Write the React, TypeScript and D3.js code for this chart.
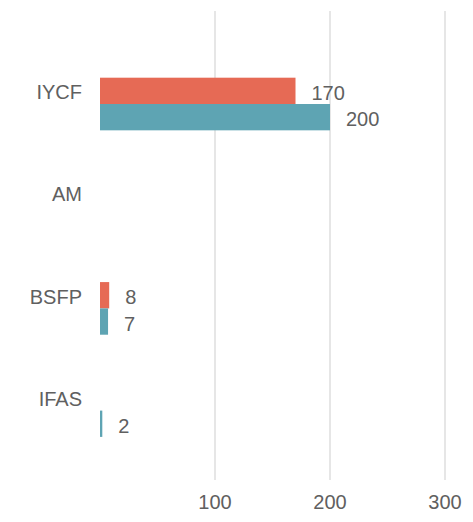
import React from "react";
import * as d3 from "d3";

const categories = ["IYCF", "AM", "BSFP", "IFAS"];
const seriesNames = ["s1", "s2"];
const series1: (number | null)[] = [170, null, 8, null];
const series2: (number | null)[] = [200, null, 7, 2];
const tickValues = [100, 200, 300];

const W = 473;
const H = 522;
const colors = ["#E66A55", "#5EA4B3"];
const textColor = "#606060";
const font = "'Liberation Sans', Arial, sans-serif";

export default function App() {
  const x = d3.scaleLinear().domain([0, 300]).range([100, 445]);
  const y = d3
    .scaleBand<string>()
    .domain(categories)
    .range([26.6, 488])
    .paddingInner(0.485)
    .paddingOuter(0.5);
  const inner = d3
    .scaleBand<string>()
    .domain(seriesNames)
    .range([0, y.bandwidth()]);
  const data = [series1, series2];

  return (
    <svg
      width={W}
      height={H}
      style={{ position: "absolute", left: 0, top: 0, background: "#fff" }}
      fontFamily={font}
    >
      {x.ticks(3).filter((t) => tickValues.includes(t)).map((t) => (
        <g key={t}>
          <line x1={x(t)} x2={x(t)} y1={11} y2={480} stroke="#e6e6e6" strokeWidth={2} />
          <text x={x(t)} y={509} textAnchor="middle" fontSize={20} fill={textColor}>
            {t}
          </text>
        </g>
      ))}
      {categories.map((c) => (
        <text
          key={c}
          x={82}
          y={(y(c) as number) + 14.5}
          dy="0.35em"
          textAnchor="end"
          fontSize={20}
          fill={textColor}
        >
          {c}
        </text>
      ))}
      {categories.map((c, i) =>
        data.map((s, j) => {
          const v = s[i];
          if (v == null) return null;
          const y0 = (y(c) as number) + (inner(seriesNames[j]) as number);
          return (
            <g key={c + j}>
              <rect
                x={x(0)}
                y={y0}
                width={x(v) - x(0)}
                height={inner.bandwidth()}
                fill={colors[j]}
              />
              <text
                x={x(v) + 16}
                y={y0 + inner.bandwidth() / 2 + 2}
                dy="0.35em"
                fontSize={20}
                fill={textColor}
              >
                {v}
              </text>
            </g>
          );
        })
      )}
    </svg>
  );
}
